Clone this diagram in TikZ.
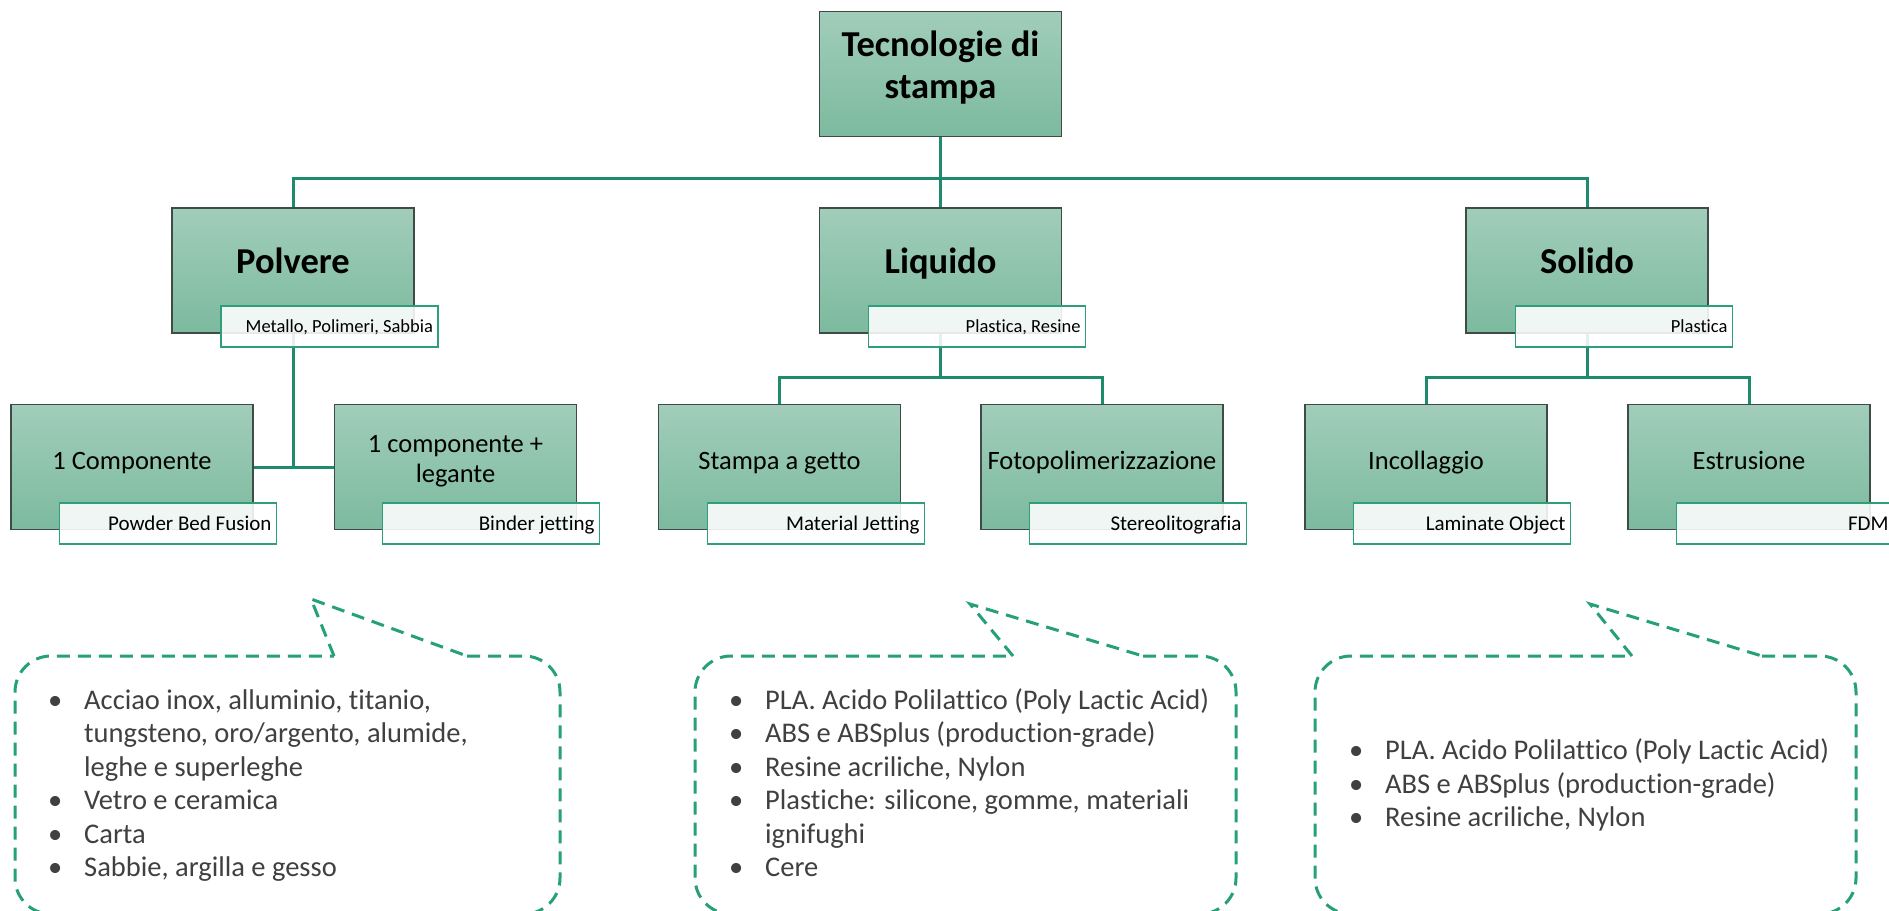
\documentclass[tikz,border=0pt]{standalone}
\usepackage{fontspec}
\setmainfont{Carlito}[Ligatures=NoCommon]
\definecolor{boxtop}{HTML}{A1CDBA}
\definecolor{boxbot}{HTML}{7CBA9F}
\definecolor{boxline}{HTML}{3F4B47}
\definecolor{taggreen}{HTML}{2E9F7C}
\definecolor{wirecol}{HTML}{1F8B6D}
\definecolor{dashcol}{HTML}{25A07A}
\definecolor{notecol}{HTML}{404040}
\pgfdeclarelayer{paper}
\pgfdeclarelayer{wires}
\pgfsetlayers{paper,wires,main}
\newcommand\bulletitem{\makebox[36pt][l]{•}}
\newcommand\tagtext[1]{\makebox[207pt][r]{#1}}
\begin{document}
\begin{tikzpicture}[x=1pt,y=-1pt,
  mainbox/.style={draw=boxline, line width=1.2pt, top color=boxtop, bottom color=boxbot,
    minimum width=242pt, minimum height=125pt, inner sep=0pt},
  tagbase/.style={draw=taggreen, line width=1.5pt, fill=white, fill opacity=0.88, text opacity=1,
    minimum width=217pt, minimum height=41pt, inner sep=0pt, text depth=0pt},
  tagone/.style={tagbase, text height=11.5pt, font=\fontsize{18.5}{22}\selectfont},
  tagtwo/.style={tagbase, text height=13pt, font=\fontsize{21}{24}\selectfont},
  toptext/.style={align=center, inner sep=0pt, font=\fontsize{36.5}{42}\selectfont\bfseries},
  lvlone/.style={inner sep=0pt, text height=25pt, text depth=7.5pt, font=\fontsize{36.5}{42}\selectfont\bfseries},
  lvltwo/.style={inner sep=0pt, text height=19pt, text depth=6pt, font=\fontsize{26.5}{30}\selectfont},
  lvltwoml/.style={align=center, inner sep=0pt, font=\fontsize{26.5}{30}\selectfont},
  wire/.style={draw=wirecol, line width=3pt},
  callout/.style={draw=dashcol, line width=3pt, dash pattern=on 13pt off 8pt},
  noteline/.style={anchor=base west, inner sep=0pt, text=notecol, font=\fontsize{28.5}{33}\selectfont}]
\useasboundingbox (0,0) rectangle (1889,910);
\begin{pgfonlayer}{paper}
\fill[white] (0,0) rectangle (1889,910);
\end{pgfonlayer}
\clip (0,0) rectangle (1889,910);

% hierarchy boxes
\node[mainbox] (top) at (940.5,74) {};
\node[mainbox] (pol) at (293,270.5) {};
\node[mainbox] (liq) at (940.5,270.5) {};
\node[mainbox] (sol) at (1587,270.5) {};
\node[mainbox] (c1) at (132,467) {};
\node[mainbox] (c2) at (455.5,467) {};
\node[mainbox] (sg) at (779.5,467) {};
\node[mainbox] (fp) at (1102,467) {};
\node[mainbox] (inc) at (1426,467) {};
\node[mainbox] (est) at (1749,467) {};

% connectors
\begin{pgfonlayer}{wires}
\coordinate (bus0) at (940.5,178);
\coordinate (bus1) at (940.5,377);
\coordinate (bus2) at (1587,377);
\draw[wire] (top.south) -- (liq.north);
\draw[wire] (pol.north) |- (bus0) -| (sol.north);
\draw[wire] (pol.south) -- (pol.south |- c1.east);
\draw[wire] (c1.east) -- (c2.west);
\draw[wire] (liq.south) -- (bus1);
\draw[wire] (sg.north) |- (bus1) -| (fp.north);
\draw[wire] (sol.south) -- (bus2);
\draw[wire] (inc.north) |- (bus2) -| (est.north);
\end{pgfonlayer}

% material tags
\node[tagone] (polm) at (329.5,326.5) {\tagtext{Metallo, Polimeri, Sabbia}};
\node[tagone] (liqm) at (977,326.5) {\tagtext{Plastica, Resine}};
\node[tagone] (solm) at (1624,326.5) {\tagtext{Plastica}};
\node[tagtwo] (c1m) at (168,523.5) {\tagtext{Powder Bed Fusion}};
\node[tagtwo] (c2m) at (491,523.5) {\tagtext{Binder jetting}};
\node[tagtwo] (sgm) at (816,523.5) {\tagtext{Material Jetting}};
\node[tagtwo] (fpm) at (1138,523.5) {\tagtext{Stereolitografia}};
\node[tagtwo] (incm) at (1462,523.5) {\tagtext{Laminate Object}};
\node[tagtwo] (estm) at (1785,523.5) {\tagtext{FDM}};

% box titles
\node[toptext] (topt) at ([yshift=6.7pt]top.center) {Tecnologie di\\stampa};
\node[lvlone] (polt) at ([yshift=6.25pt]pol.center) {Polvere};
\node[lvlone] (liqt) at ([yshift=6.25pt]liq.center) {Liquido};
\node[lvlone] (solt) at ([yshift=6.25pt]sol.center) {Solido};
\node[lvltwo] (c1t) at ([yshift=4.5pt]c1.center) {1 Componente};
\node[lvltwoml] (c2t) at ([yshift=5.5pt]c2.center) {1 componente +\\legante};
\node[lvltwo] (sgt) at ([yshift=4.5pt]sg.center) {Stampa a getto};
\node[lvltwo] (fpt) at ([yshift=4.5pt]fp.center) {Fotopolimerizzazione};
\node[lvltwo] (inct) at ([yshift=4.5pt]inc.center) {Incollaggio};
\node[lvltwo] (estt) at ([yshift=4.5pt]est.center) {Estrusione};

% speech callouts
\draw[callout] (334,656) -- (311,599) -- (467,656);
\draw[callout, rounded corners=36pt] (467,656) -- (560,656) -- (560,914) -- (15,914) -- (15,656) -- (334,656);
\draw[callout] (1013,656) -- (970,604) -- (1143,656);
\draw[callout, rounded corners=36pt] (1143,656) -- (1236,656) -- (1236,914) -- (695,914) -- (695,656) -- (1013,656);
\draw[callout] (1632,656) -- (1590,604) -- (1762,656);
\draw[callout, rounded corners=36pt] (1762,656) -- (1856,656) -- (1856,914) -- (1315,914) -- (1315,656) -- (1632,656);

% callout texts
\node[noteline] (pa1) at (48,709) {\bulletitem Acciao inox, alluminio, titanio,};
\node[noteline] (pa2) at (84,742.5) {tungsteno, oro/argento, alumide,};
\node[noteline] (pa3) at (84,776) {leghe e superleghe};
\node[noteline] (pa4) at (48,809.5) {\bulletitem Vetro e ceramica};
\node[noteline] (pa5) at (48,843) {\bulletitem Carta};
\node[noteline] (pa6) at (48,876.5) {\bulletitem Sabbie, argilla e gesso};

\node[noteline] (pb1) at (729,709) {\bulletitem PLA. Acido Polilattico (Poly Lactic Acid)};
\node[noteline] (pb2) at (729,742.5) {\bulletitem ABS e ABSplus (production-grade)};
\node[noteline] (pb3) at (729,776) {\bulletitem Resine acriliche, Nylon};
\node[noteline] (pb4) at (729,809.5) {\bulletitem Plastiche: silicone, gomme, materiali};
\node[noteline] (pb5) at (765,843) {ignifughi};
\node[noteline] (pb6) at (729,876.5) {\bulletitem Cere};

\node[noteline] (pc1) at (1349,759.5) {\bulletitem PLA. Acido Polilattico (Poly Lactic Acid)};
\node[noteline] (pc2) at (1349,793) {\bulletitem ABS e ABSplus (production-grade)};
\node[noteline] (pc3) at (1349,826.5) {\bulletitem Resine acriliche, Nylon};
\end{tikzpicture}
\end{document}
